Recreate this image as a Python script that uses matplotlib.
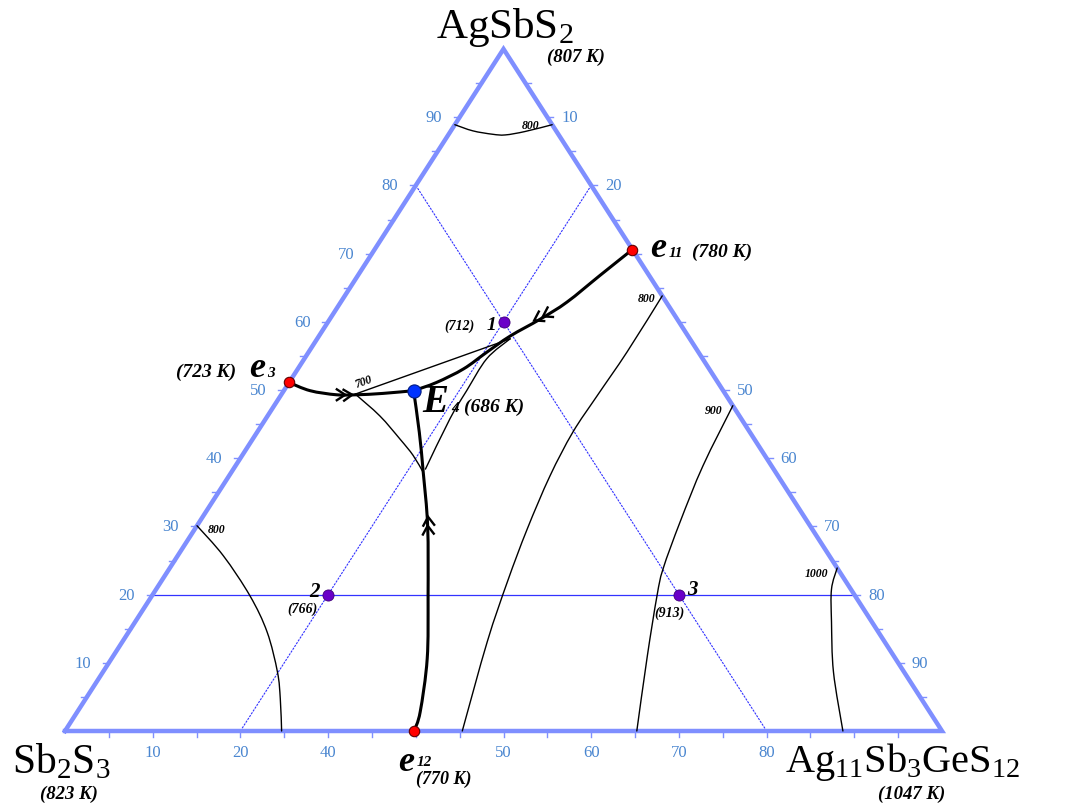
import numpy as np
import matplotlib
matplotlib.use("Agg")
import matplotlib.pyplot as plt
from matplotlib.path import Path
from matplotlib.patches import PathPatch

# ---- composition data: b = mol% Ag11Sb3GeS12, c = mol% AgSbS2 ----
# liquidus isotherms
iso800_top_b = [0.0, 2.5, 5.0, 6.5, 8.5, 11.1]
iso800_top_c = [88.9, 88.0, 87.5, 87.4, 87.9, 88.9]
iso800_left_b = [0.0, 5.2, 11.2, 15.8, 19.9, 22.2, 24.7]
iso800_left_c = [30.1, 25.7, 19.8, 14.5, 8.65, 4.7, 0.0]
iso800_mid_b = [36.2, 36.3, 36.1, 36.0, 36.6, 37.9, 39.5, 41.6, 45.3]
iso800_mid_c = [63.8, 55.6, 49.1, 43.8, 37.4, 29.6, 21.9, 13.1, 0.0]
iso900_b = [52.3, 53.3, 54.8, 56.3, 57.6, 60.9, 65.2]
iso900_c = [47.7, 38.9, 30.7, 23.8, 19.8, 11.0, 0.0]
iso1000_b = [76.1, 77.0, 79.4, 83.3, 88.7]
iso1000_c = [23.9, 20.8, 16.0, 8.65, 0.0]
iso700_top_b = [8.4, 22.0]
iso700_top_c = [49.4, 57.5]
iso700_left_b = [8.4, 12.8, 16.8, 19.5, 21.9]
iso700_left_c = [49.4, 46.2, 42.8, 40.4, 37.9]
iso700_right_b = [22.0, 20.8, 20.85, 21.0, 21.9]
iso700_right_c = [57.5, 54.6, 49.9, 45.8, 38.4]

# monovariant lines (flow direction towards the ternary eutectic)
e3_line_b = [0.0, 3.0, 6.3, 8.6, 11.5, 14.8]
e3_line_c = [51.1, 49.9, 49.3, 49.3, 49.5, 49.9]
e11_line_b = [29.4, 27.6, 25.8, 24.0, 21.8, 20.3, 18.9, 16.8, 14.8]
e11_line_c = [70.6, 66.8, 62.9, 60.4, 57.9, 55.5, 53.1, 51.1, 49.9]
e12_line_b = [39.8, 39.1, 36.0, 31.5, 26.3, 21.9, 18.5, 14.8]
e12_line_c = [0.0, 2.8, 10.6, 19.8, 30.1, 37.9, 43.8, 49.9]

# arrow positions on the monovariant lines
e3_arrows_b, e3_arrows_c = [7.3, 8.1], [49.3, 49.3]
e11_arrows_b, e11_arrows_c = [23.4, 24.1], [60.2, 60.8]
e12_arrows_b, e12_arrows_c = [25.7, 26.3], [31.4, 30.1]

# invariant points
eut_b = [0.0, 29.4, 39.8]          # e3, e11, e12
eut_c = [51.1, 70.6, 0.0]
E4_b, E4_c = [14.8], [49.9]
alloy_b = [20.0, 20.0, 60.0]       # alloys 1, 2, 3
alloy_c = [60.0, 20.0, 20.0]

# sections through the alloys
sec_b20_b, sec_b20_c = [20.0, 20.0], [0.0, 80.0]
sec_s80_b, sec_s80_c = [0.0, 80.0], [80.0, 0.0]
sec_c20_b, sec_c20_c = [0.0, 80.0], [20.0, 20.0]

# axis ticks and labels
tick_vals = list(range(5, 100, 5))
left_vals = [10, 20, 30, 40, 50, 60, 70, 80, 90]
left_text = ["10", "20", "30", "40", "50", "60", "70", "80", "90"]
right_vals = [10, 20, 50, 60, 70, 80, 90]
right_text = ["10", "20", "50", "60", "70", "80", "90"]
bottom_vals = [10, 20, 30, 50, 60, 70, 80]
bottom_text = ["10", "20", "40", "50", "60", "70", "80"]

# ---- figure ----
W, H = 1067, 804
plt.rcParams["mathtext.fontset"] = "custom"
plt.rcParams["mathtext.rm"] = "Liberation Serif"
plt.rcParams["mathtext.it"] = "Liberation Serif:italic"
plt.rcParams["mathtext.bf"] = "Liberation Serif:bold"
SERIF = ["Liberation Serif", "DejaVu Serif"]

fig = plt.figure(figsize=(W / 100, H / 100), dpi=100)
ax = fig.add_axes([65 / W, 72 / H, 877 / W, 682 / H])
ax.set_xlim(0, 100)
ax.set_ylim(0, 100)
ax.axis("off")

EDGE = "#7f8fff"
TICKTXT = "#4a86d0"
SECT = "#3333ff"


def tern(b, c):
    b = np.asarray(b, float)
    c = np.asarray(c, float)
    return b + c / 2.0, c


def line(b, c, **kw):
    x, y = tern(b, c)
    ax.plot(x, y, clip_on=False, **kw)


def curve(b, c, color="black", lw=1.0, zorder=4):
    """Smooth curve through the given compositions (Catmull-Rom as cubic Beziers)."""
    x, y = tern(b, c)
    P = np.column_stack([x, y])
    if len(P) < 3:
        ax.plot(x, y, color=color, lw=lw, zorder=zorder, clip_on=False)
        return
    verts = [P[0]]
    codes = [Path.MOVETO]
    n = len(P)
    for i in range(n - 1):
        p0 = P[i - 1] if i > 0 else P[i]
        p1, p2 = P[i], P[i + 1]
        p3 = P[i + 2] if i + 2 < n else P[i + 1]
        verts += [p1 + (p2 - p0) / 6.0, p2 - (p3 - p1) / 6.0, p2]
        codes += [Path.CURVE4] * 3
    ax.add_patch(PathPatch(Path(verts, codes), fill=False, edgecolor=color,
                           lw=lw, zorder=zorder, clip_on=False, capstyle="round"))


# triangle frame
line([0, 100, 0, 0], [0, 0, 100, 0], color=EDGE, lw=3.2, solid_joinstyle="miter", zorder=3)

# ticks (6 px outward)
dy = 6 * 100 / 682
dx = 6 * 100 / 877
for v in tick_vals:
    x, y = tern(v, 0)
    ax.plot([x, x], [0, -dy], color=EDGE, lw=1.0, clip_on=False)
    x, y = tern(0, v)
    ax.plot([x, x - dx], [y, y], color=EDGE, lw=1.0, clip_on=False)
    x, y = tern(100 - v, v)
    ax.plot([x, x + dx], [y, y], color=EDGE, lw=1.0, clip_on=False)

tk = dict(color=TICKTXT, fontsize=12, family=SERIF, textcoords="offset pixels",
          ha="center", va="center", annotation_clip=False)
for v, s in zip(left_vals, left_text):
    ax.annotate(s, xy=tern(0, v), xytext=(-26, 0), **tk)
for v, s in zip(right_vals, right_text):
    ax.annotate(s, xy=tern(v, 100 - v), xytext=(22, 0), **tk)
for v, s in zip(bottom_vals, bottom_text):
    ax.annotate(s, xy=tern(v, 0), xytext=(0, -21), **tk)

# sections
line(sec_c20_b, sec_c20_c, color=SECT, lw=0.9, zorder=2)
line(sec_b20_b, sec_b20_c, color=SECT, lw=0.8, ls=(0, (2, 1)), zorder=2)
line(sec_s80_b, sec_s80_c, color=SECT, lw=0.8, ls=(0, (2, 1)), zorder=2)

# isotherms
for b, c in [(iso800_top_b, iso800_top_c), (iso800_left_b, iso800_left_c),
             (iso800_mid_b, iso800_mid_c), (iso900_b, iso900_c),
             (iso1000_b, iso1000_c), (iso700_top_b, iso700_top_c),
             (iso700_left_b, iso700_left_c), (iso700_right_b, iso700_right_c)]:
    curve(b, c, lw=1.0, zorder=4)

# monovariant lines
for b, c in [(e3_line_b, e3_line_c), (e11_line_b, e11_line_c), (e12_line_b, e12_line_c)]:
    curve(b, c, lw=2.2, zorder=5)


def chevrons(path_b, path_c, tips_b, tips_c, size=10.0, half=33.0):
    pp = ax.transData.transform(np.column_stack(tern(path_b, path_c)))
    inv = ax.transData.inverted()
    for tb, tc in zip(tips_b, tips_c):
        tip = ax.transData.transform(np.column_stack(tern([tb], [tc])))[0]
        i = int(np.argmin(np.linalg.norm(pp - tip, axis=1)))
        j = min(i, len(pp) - 2)
        d = pp[j + 1] - pp[j]
        ang = np.arctan2(d[1], d[0])
        arms = []
        for s in (1, -1):
            a = ang + np.pi + s * np.radians(half)
            arms.append(tip + size * np.array([np.cos(a), np.sin(a)]))
        pts = inv.transform(np.array([arms[0], tip, arms[1]]))
        ax.plot(pts[:, 0], pts[:, 1], color="black", lw=1.7, zorder=6,
                solid_joinstyle="miter", clip_on=False)


chevrons(e3_line_b, e3_line_c, e3_arrows_b, e3_arrows_c)
chevrons(e11_line_b, e11_line_c, e11_arrows_b, e11_arrows_c)
chevrons(e12_line_b, e12_line_c, e12_arrows_b, e12_arrows_c)

# points
x, y = tern(eut_b, eut_c)
ax.plot(x, y, "o", ms=7.5, mfc="#ff0000", mec="#600000", mew=0.8, zorder=8, clip_on=False)
x, y = tern(E4_b, E4_c)
ax.plot(x, y, "o", ms=9.5, mfc="#0033ff", mec="#001a80", mew=0.8, zorder=8, clip_on=False)
x, y = tern(alloy_b, alloy_c)
ax.plot(x, y, "o", ms=8, mfc="#6a00c8", mec="#40007a", mew=0.6, zorder=8, clip_on=False)


# ---- text (pixel placement) ----
def ptext(x, y, s, size, bold=False, italic=False, ha="left", va="baseline", **kw):
    fig.text(x / W, 1 - y / H, s, fontsize=size, family=SERIF,
             fontweight="bold" if bold else "normal",
             style="italic" if italic else "normal", ha=ha, va=va, **kw)


# components
ptext(505, 38, r"AgSbS$_\mathrm{2}$", 31, ha="center")
ptext(576, 62, "(807 K)", 13.5, bold=True, italic=True, ha="center")
ptext(12, 773, r"Sb$_\mathrm{2}$S$_\mathrm{3}$", 30)
ptext(69, 799, "(823 K)", 13.5, bold=True, italic=True, ha="center")
ptext(785, 772, r"Ag$_\mathrm{11}$Sb$_\mathrm{3}$GeS$_\mathrm{12}$", 29)
ptext(912, 799, "(1047 K)", 13.5, bold=True, italic=True, ha="center")

# invariant points
ptext(650, 257, "e", 26, bold=True, italic=True)
ptext(669, 257, "11", 11, bold=True, italic=True)
ptext(692, 257, "(780 K)", 14, bold=True, italic=True)

ptext(176, 377, "(723 K)", 14, bold=True, italic=True)
ptext(249, 377, "e", 26, bold=True, italic=True)
ptext(267, 377, "3", 11, bold=True, italic=True)

ptext(422, 412, "E", 28, bold=True, italic=True)
ptext(451, 412, "4", 11, bold=True, italic=True)
ptext(464, 412, "(686 K)", 14, bold=True, italic=True)

ptext(398, 771, "e", 26, bold=True, italic=True)
ptext(417, 766, "12", 11, bold=True, italic=True)
ptext(444, 784, "(770 K)", 13, bold=True, italic=True, ha="center")

# alloys
ptext(444, 330, "(712)", 10, bold=True, italic=True)
ptext(487, 330, "1", 14, bold=True, italic=True)
ptext(309, 597, "2", 15, bold=True, italic=True)
ptext(287, 613, "(766)", 10, bold=True, italic=True)
ptext(687, 595, "3", 15, bold=True, italic=True)
ptext(654, 617, "(913)", 10, bold=True, italic=True)

# isotherm labels
iso_lab = dict(bold=True, italic=True, ha="center", va="center")
ptext(531, 126, "800", 8.5, **iso_lab)
ptext(217, 530, "800", 8.5, **iso_lab)
ptext(647, 299, "800", 8.5, **iso_lab)
ptext(714, 411, "900", 8.5, **iso_lab)
ptext(816, 574, "1000", 8.5, **iso_lab)
ptext(364, 382, "700", 8.5, rotation=20, **iso_lab)

fig.savefig("out.png", dpi=100, facecolor="white")
